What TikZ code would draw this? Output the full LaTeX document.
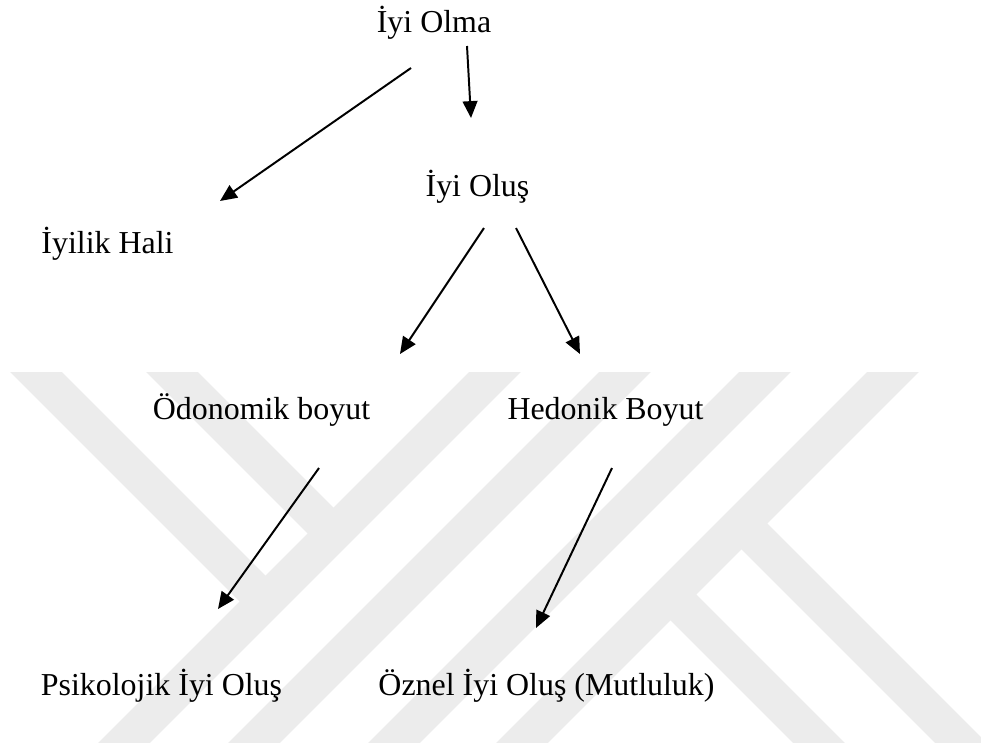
\documentclass[tikz,border=0pt]{standalone}
\usepackage{fontspec}
\setmainfont{Liberation Serif}
\usepackage{xcolor}
\usetikzlibrary{arrows.meta}
\definecolor{wmgray}{RGB}{236,236,236}

\begin{document}
\begin{tikzpicture}[x=0.025cm,y=-0.025cm,
    lbl/.style={anchor=base,inner sep=0pt,font=\fontsize{22.7}{27}\selectfont},
    ok/.style={line width=1.4pt,-{Triangle[length=12pt,width=10.5pt]}},
    band/.style={wmgray,line width=26pt}]
	\useasboundingbox (0,0) rectangle (981,745);
	% Filigran
	\begin{scope}
		\clip (0,372) rectangle (981,742);
		\foreach \x in {495,625,765,893}
		\draw[band] (\x+20,352) -- (\x-400,772);
		\draw[band] (16,352) -- (265.5,601.5);
		\draw[band] (152,352) -- (333.5,533.5);
		\draw[band] (741.5,523.5) -- (991.5,773.5);
		\draw[band] (670.5,594.5) -- (850.5,774.5);
	\end{scope}
	% Kavramlar
	\node[lbl] (olma) at (434,32) {İyi Olma};
	\node[lbl] (olus) at (477.5,196) {İyi Oluş};
	\node[lbl] (hali) at (107.5,253) {İyilik Hali};
	\node[lbl] (odonomik) at (261.5,419) {Ödonomik boyut};
	\node[lbl] (hedonik) at (605.5,419) {Hedonik Boyut};
	\node[lbl] (psiko) at (161.5,695) {Psikolojik İyi Oluş};
	\node[lbl] (oznel) at (546.5,695) {Öznel İyi Oluş (Mutluluk)};
	% Ok uçları
	\coordinate (olma-a) at (411,68);
	\coordinate (olma-b) at (467,46);
	\coordinate (hali-u) at (220,201);
	\coordinate (olus-u) at (471,118);
	\coordinate (olus-a) at (484,228);
	\coordinate (olus-b) at (516,228);
	\coordinate (odon-u) at (400,354);
	\coordinate (hedo-u) at (580,354);
	\coordinate (odon-a) at (319,468);
	\coordinate (hedo-a) at (612,468);
	\coordinate (psiko-u) at (218,609);
	\coordinate (oznel-u) at (536,628);
	% Oklar
	\draw[ok] (olma-a) -- (hali-u);
	\draw[ok] (olma-b) -- (olus-u);
	\draw[ok] (olus-a) -- (odon-u);
	\draw[ok] (olus-b) -- (hedo-u);
	\draw[ok] (odon-a) -- (psiko-u);
	\draw[ok] (hedo-a) -- (oznel-u);
\end{tikzpicture}
\end{document}
